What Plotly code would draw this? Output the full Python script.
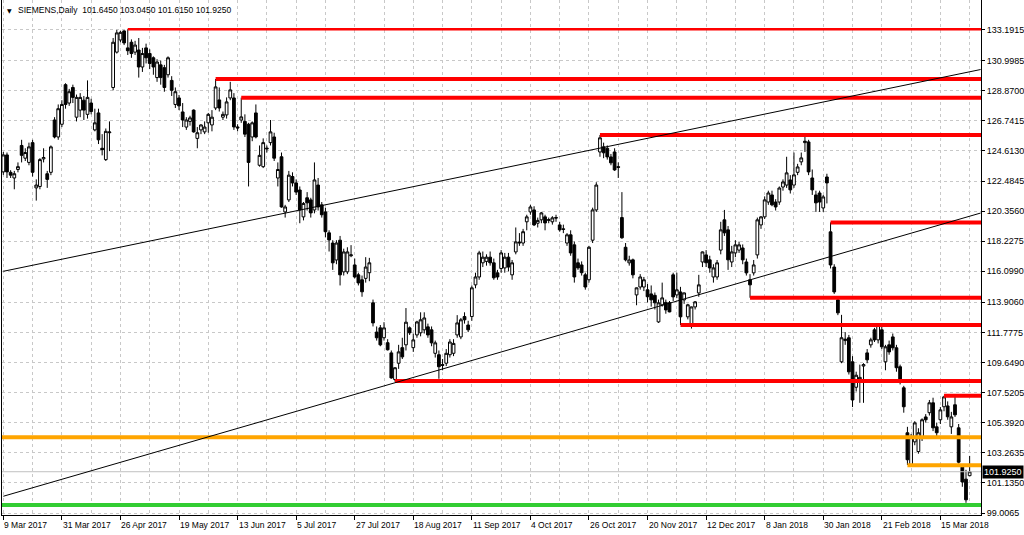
import pandas as pd
import plotly.graph_objects as go

# ---------------- data ----------------
holidays = ["2017-04-14", "2017-04-17", "2017-05-01", "2017-06-05", "2017-10-03",
            "2017-10-31", "2017-12-25", "2017-12-26", "2018-01-01"]
dates = pd.bdate_range("2017-03-09", "2018-03-27", freq="C", holidays=holidays)

ohlc_rows = [
    (123.13, 124.54, 122.92, 124.33), (124.33, 124.50, 122.70, 123.13), (123.10, 123.25, 122.70, 122.90),
    (122.70, 123.20, 121.90, 123.00), (123.30, 123.80, 123.10, 123.50), (125.00, 125.40, 123.80, 124.30),
    (124.10, 124.80, 123.90, 124.50), (123.80, 125.20, 123.60, 124.90), (125.20, 125.40, 122.80, 123.10),
    (122.00, 122.60, 121.10, 122.20), (122.10, 124.10, 121.90, 124.00), (124.05, 124.80, 123.80, 124.15),
    (123.00, 123.20, 122.00, 122.60), (123.10, 125.00, 122.90, 124.90), (126.80, 127.00, 125.50, 125.60),
    (125.60, 127.90, 125.40, 127.60), (126.50, 128.20, 126.30, 127.90), (129.30, 129.40, 127.60, 127.90),
    (128.00, 129.00, 127.80, 128.80), (129.10, 129.30, 128.00, 128.40), (127.00, 128.60, 126.70, 128.40),
    (127.50, 128.70, 127.00, 128.40), (128.20, 128.50, 126.80, 127.50), (127.20, 129.60, 126.90, 128.40),
    (128.00, 128.30, 127.20, 127.40), (126.10, 127.60, 126.00, 126.60), (127.30, 127.60, 125.10, 125.40),
    (124.80, 125.80, 124.30, 124.70), (124.00, 126.20, 123.90, 126.00), (125.90, 126.70, 124.60, 125.95),
    (129.10, 132.60, 128.90, 132.30), (131.60, 133.17, 131.50, 132.96), (132.46, 133.10, 132.30, 133.00),
    (133.10, 133.15, 132.10, 132.25), (131.90, 133.22, 131.40, 131.70), (132.30, 132.50, 131.20, 131.50),
    (131.60, 132.40, 131.40, 132.10), (131.75, 132.60, 129.80, 130.55), (130.55, 131.90, 130.20, 131.50),
    (131.90, 132.20, 130.80, 131.20), (131.50, 131.80, 130.40, 130.80), (131.20, 131.30, 130.00, 130.55),
    (129.80, 131.10, 129.50, 130.90), (130.70, 131.00, 129.30, 129.80), (130.50, 130.70, 128.80, 129.10),
    (130.00, 131.30, 129.80, 131.20), (129.60, 129.90, 128.50, 128.90), (127.90, 129.10, 127.65, 128.80),
    (128.36, 128.57, 127.50, 127.80), (127.37, 128.00, 126.30, 126.80), (126.30, 127.00, 126.10, 126.80),
    (126.70, 127.10, 126.40, 126.95), (127.50, 127.55, 125.90, 125.96), (125.50, 126.30, 124.80, 125.90),
    (126.10, 126.50, 125.80, 126.45), (125.96, 126.70, 125.80, 126.30), (126.60, 127.30, 125.90, 127.20),
    (126.45, 127.50, 126.00, 127.00), (127.65, 129.70, 127.50, 129.14), (128.22, 129.10, 127.40, 127.65),
    (127.00, 127.40, 126.80, 127.20), (127.16, 128.40, 126.90, 128.08), (128.36, 129.50, 128.20, 128.93),
    (128.36, 128.70, 126.10, 126.31), (126.31, 126.50, 126.00, 126.24), (126.80, 128.38, 126.60, 127.02),
    (126.70, 127.20, 125.60, 125.80), (126.50, 126.60, 122.10, 123.80), (125.60, 126.70, 125.30, 126.60),
    (127.30, 127.90, 125.50, 125.60), (123.60, 125.00, 123.50, 124.30), (123.50, 125.50, 123.40, 125.20),
    (124.75, 125.00, 124.50, 124.80), (125.20, 126.80, 125.00, 125.96), (125.60, 125.90, 123.90, 124.10),
    (122.70, 123.80, 122.10, 123.30), (124.20, 124.50, 120.60, 120.65), (120.30, 120.80, 119.90, 120.65),
    (121.15, 123.20, 121.00, 122.90), (122.80, 123.10, 122.10, 122.35), (122.35, 122.60, 121.50, 121.70),
    (121.85, 122.10, 119.50, 120.44), (119.95, 121.00, 119.70, 120.90), (121.30, 121.70, 120.40, 120.94),
    (121.15, 121.30, 119.90, 120.23), (120.44, 123.80, 120.20, 122.56), (122.20, 122.70, 120.40, 120.65),
    (120.80, 121.00, 119.90, 120.10), (120.30, 120.60, 118.50, 118.90), (118.82, 119.00, 117.50, 118.32),
    (118.10, 118.30, 116.20, 116.70), (116.90, 118.30, 116.60, 118.10), (118.30, 118.60, 115.10, 115.85),
    (116.06, 117.70, 115.80, 117.47), (116.06, 117.80, 115.90, 117.47), (117.20, 117.95, 117.10, 117.26),
    (116.55, 117.00, 115.60, 115.70), (115.85, 116.00, 115.10, 115.28), (115.50, 115.80, 114.30, 114.65),
    (115.60, 117.10, 115.30, 116.40), (116.00, 117.05, 115.40, 116.70), (113.87, 114.10, 112.20, 112.45),
    (111.80, 112.20, 111.20, 111.40), (112.10, 112.30, 110.80, 110.90), (111.40, 112.50, 111.20, 112.10),
    (111.05, 111.30, 110.50, 110.55), (110.33, 110.50, 108.50, 108.56), (108.45, 109.30, 108.30, 109.28),
    (109.60, 110.90, 109.20, 110.40), (110.70, 111.40, 109.90, 110.05), (110.90, 113.50, 110.50, 112.50),
    (112.10, 112.20, 111.60, 111.75), (110.70, 111.70, 110.40, 111.25), (111.60, 112.60, 111.40, 112.52),
    (111.75, 113.20, 111.50, 112.67), (111.96, 113.20, 111.70, 112.80), (112.17, 112.40, 111.40, 111.60),
    (111.96, 112.20, 110.80, 111.04), (110.30, 111.20, 110.00, 111.04), (110.20, 110.50, 108.50, 109.35),
    (109.50, 109.90, 109.10, 109.45), (109.60, 110.60, 109.40, 110.30), (110.20, 111.30, 110.00, 111.10),
    (110.30, 111.30, 110.10, 111.00), (111.60, 113.00, 111.40, 112.45), (111.46, 112.80, 111.30, 112.67),
    (112.90, 113.20, 112.40, 112.67), (112.30, 112.60, 111.80, 111.96), (112.90, 115.10, 112.60, 114.93),
    (115.14, 116.00, 114.90, 115.70), (115.70, 117.55, 115.50, 117.40), (116.70, 117.50, 116.40, 117.10),
    (116.80, 117.30, 116.50, 117.10), (117.10, 117.50, 116.50, 116.70), (116.70, 117.00, 115.50, 115.64),
    (115.99, 116.20, 115.50, 115.70), (116.30, 117.60, 116.00, 117.40), (116.34, 117.40, 116.00, 117.10),
    (117.10, 117.40, 116.10, 116.40), (115.85, 116.90, 115.50, 116.70), (117.47, 119.20, 117.30, 118.18),
    (118.10, 118.80, 117.90, 118.15), (118.10, 119.10, 117.90, 118.90), (119.60, 120.10, 119.00, 119.95),
    (120.30, 120.80, 120.10, 120.65), (120.44, 120.70, 119.30, 119.38), (119.50, 119.90, 119.20, 119.70),
    (119.74, 120.30, 119.50, 120.23), (119.95, 120.10, 119.00, 119.52), (119.70, 119.90, 119.50, 119.75),
    (119.60, 120.00, 119.40, 119.88), (119.90, 120.10, 119.60, 119.87), (119.38, 119.60, 118.90, 119.03),
    (119.10, 119.40, 118.80, 119.07), (118.10, 118.80, 117.90, 118.68), (118.68, 119.00, 117.20, 117.40),
    (117.97, 118.20, 115.30, 115.70), (116.70, 117.00, 116.20, 116.34), (116.55, 116.80, 115.80, 116.00),
    (115.85, 116.00, 114.80, 114.99), (115.50, 117.90, 115.30, 117.80), (118.30, 120.60, 118.10, 120.44),
    (120.44, 122.40, 120.30, 122.20), (124.54, 125.74, 124.20, 125.54), (124.90, 125.20, 124.10, 124.48),
    (124.80, 125.00, 124.00, 124.19), (124.19, 124.40, 123.60, 123.77), (124.54, 124.80, 123.20, 123.27),
    (123.50, 123.80, 122.70, 123.45), (119.90, 121.70, 118.40, 118.47), (117.80, 118.10, 116.80, 116.91),
    (116.70, 117.20, 116.50, 116.90), (116.91, 117.00, 115.60, 115.85), (114.43, 114.95, 113.70, 114.93),
    (114.99, 115.90, 114.80, 115.70), (114.99, 115.70, 114.70, 115.50), (114.79, 115.20, 113.90, 114.30),
    (114.50, 115.10, 113.60, 114.08), (114.40, 114.60, 113.40, 113.87), (112.52, 114.10, 112.45, 113.87),
    (113.73, 115.30, 113.60, 114.22), (113.90, 114.10, 113.10, 113.37), (113.87, 114.00, 113.20, 113.23),
    (115.85, 116.00, 114.00, 114.29), (114.43, 116.00, 114.20, 114.79), (114.64, 115.00, 112.30, 112.88),
    (114.08, 114.60, 113.80, 114.57), (112.88, 113.80, 112.70, 113.73), (112.20, 113.60, 112.05, 113.58),
    (113.58, 114.00, 113.40, 113.94), (114.57, 115.85, 114.30, 115.14), (116.76, 117.50, 116.40, 117.47),
    (117.26, 117.60, 116.40, 116.70), (116.91, 117.20, 116.00, 116.34), (115.70, 116.60, 115.30, 116.34),
    (115.70, 116.90, 115.50, 116.70), (117.60, 119.60, 117.30, 119.03), (119.74, 120.44, 118.60, 118.82),
    (119.03, 119.30, 116.20, 116.91), (116.76, 117.90, 116.40, 117.47), (117.40, 118.30, 117.10, 117.97),
    (117.60, 118.20, 117.40, 117.97), (117.75, 118.00, 116.60, 116.91), (116.76, 117.00, 115.80, 115.99),
    (115.50, 115.90, 114.23, 115.14), (115.99, 116.90, 115.80, 116.55), (117.26, 119.90, 117.00, 119.74),
    (119.38, 120.00, 119.10, 119.95), (119.95, 121.40, 119.80, 121.15), (121.00, 121.80, 120.80, 121.64),
    (121.50, 121.80, 120.70, 120.80), (121.00, 121.20, 120.40, 120.65), (121.00, 122.10, 120.80, 121.99),
    (122.06, 122.60, 121.80, 122.42), (122.20, 124.20, 122.00, 123.06), (122.56, 122.90, 121.60, 121.86),
    (122.20, 124.50, 122.00, 122.92), (123.10, 123.70, 122.90, 123.48), (123.84, 124.50, 123.60, 124.12),
    (125.20, 125.60, 124.54, 125.30), (125.25, 125.40, 122.90, 123.13), (122.70, 123.30, 121.50, 121.86),
    (121.50, 121.80, 120.30, 120.94), (121.64, 121.80, 120.30, 121.00), (120.58, 121.50, 120.30, 121.36),
    (122.77, 123.00, 120.90, 122.35), (118.89, 119.56, 116.30, 116.55), (116.40, 116.60, 114.50, 114.64),
    (114.08, 114.30, 113.00, 113.16), (109.70, 113.02, 109.60, 111.40), (111.20, 111.80, 110.90, 111.30),
    (111.40, 111.60, 108.80, 108.99), (109.70, 110.10, 106.50, 107.00), (107.90, 109.00, 107.60, 108.75),
    (108.30, 109.50, 106.80, 108.60), (109.40, 109.60, 106.80, 109.50), (110.33, 110.60, 109.60, 109.84),
    (110.90, 111.40, 110.70, 111.25), (111.96, 112.10, 111.10, 111.25), (111.25, 112.40, 111.00, 112.30),
    (111.96, 112.20, 110.60, 110.76), (109.70, 110.90, 109.10, 110.76), (110.90, 111.20, 110.20, 110.40),
    (111.46, 111.70, 110.50, 110.69), (110.69, 110.90, 109.00, 109.28), (109.35, 109.50, 108.10, 108.28),
    (107.86, 108.00, 106.10, 106.52), (104.68, 105.10, 102.40, 102.77), (102.42, 104.60, 102.38, 104.40),
    (104.04, 105.50, 103.80, 105.38), (103.35, 105.00, 103.20, 104.68), (104.32, 105.70, 104.10, 105.60),
    (105.80, 106.00, 105.40, 105.60), (106.10, 107.00, 105.90, 106.80), (106.80, 107.16, 104.80, 105.03),
    (105.10, 105.40, 104.30, 104.68), (105.60, 106.50, 105.30, 106.30), (106.52, 107.30, 106.20, 107.22),
    (106.58, 106.90, 105.60, 105.81), (105.10, 106.16, 104.60, 105.80), (106.66, 107.22, 105.80, 105.95),
    (105.03, 105.30, 102.50, 102.60), (102.25, 102.30, 100.86, 101.20), (101.40, 102.06, 99.73, 99.94),
    (101.645, 103.045, 101.615, 101.925),
]
opens = [r[0] for r in ohlc_rows]
highs = [r[1] for r in ohlc_rows]
lows = [r[2] for r in ohlc_rows]
closes = [r[3] for r in ohlc_rows]

date_tick_labels = ["9 Mar 2017", "31 Mar 2017", "26 Apr 2017", "19 May 2017", "13 Jun 2017",
                    "5 Jul 2017", "27 Jul 2017", "18 Aug 2017", "11 Sep 2017", "4 Oct 2017",
                    "26 Oct 2017", "20 Nov 2017", "12 Dec 2017", "8 Jan 2018", "30 Jan 2018",
                    "21 Feb 2018", "15 Mar 2018"]
price_ticks = [99.0065, 101.1350, 103.2635, 105.3920, 107.5205, 109.6490, 111.7775, 113.9060,
               116.0990, 118.2275, 120.3560, 122.4845, 124.6130, 126.7415, 128.8700, 130.9985, 133.1915]

# horizontal levels (price, start bar date)
red_levels = [133.22, 129.70, 128.38, 125.74, 119.56, 114.23, 112.30, 108.34, 107.30]
red_start_dates = ["2017-04-28", "2017-06-02", "2017-06-14", "2017-11-01", "2018-02-01",
                   "2018-01-02", "2017-12-01", "2017-08-11", "2018-03-16"]
orange_levels = [104.36, 102.38]
orange_start_dates = ["2017-03-09", "2018-03-02"]
green_levels = [99.57]
last_price = 101.925

# trend lines: (start bar, start price, end bar, end price)
upper_trend = [0, 116.10, 267, 130.37]
lower_trend = [0, 100.19, 267, 120.22]

# ---------------- figure ----------------
n = len(closes)
dates = dates[:n]
xs = list(range(n))
X_MIN, X_MAX = -0.36, 267.1
Y_MIN, Y_MAX = 98.865, 135.287

def bar_of(d):
    return int(dates.get_loc(pd.Timestamp(d)))

fig = go.Figure()

# current price line
fig.add_trace(go.Scatter(x=[X_MIN, X_MAX], y=[last_price, last_price], mode="lines",
                         line=dict(color="#C0C0C0", width=1), hoverinfo="skip", showlegend=False))

for lv in green_levels:
    fig.add_trace(go.Scatter(x=[X_MIN, X_MAX], y=[lv, lv], mode="lines",
                             line=dict(color="#32CD32", width=4), hoverinfo="skip", showlegend=False))
for lv, d in zip(orange_levels, orange_start_dates):
    s = bar_of(d)
    x0 = X_MIN if s == 0 else s
    fig.add_trace(go.Scatter(x=[x0, X_MAX], y=[lv, lv], mode="lines",
                             line=dict(color="#FFA500", width=4), hoverinfo="skip", showlegend=False))
for i, (lv, d) in enumerate(zip(red_levels, red_start_dates)):
    fig.add_trace(go.Scatter(x=[bar_of(d), X_MAX], y=[lv, lv], mode="lines",
                             line=dict(color="#FF0000", width=2.5 if i == 0 else 4),
                             hoverinfo="skip", showlegend=False))
for tl in (upper_trend, lower_trend):
    fig.add_trace(go.Scatter(x=[tl[0], tl[2]], y=[tl[1], tl[3]], mode="lines",
                             line=dict(color="#000000", width=1), hoverinfo="skip", showlegend=False))

fig.add_trace(go.Candlestick(
    x=xs, open=opens, high=highs, low=lows, close=closes,
    text=[d.strftime("%d %b %Y") for d in dates], hoverinfo="text+x",
    increasing=dict(line=dict(color="#000000", width=1), fillcolor="#FFFFFF"),
    decreasing=dict(line=dict(color="#000000", width=1), fillcolor="#000000"),
    whiskerwidth=0, showlegend=False))

tick_pos = [bar_of(pd.to_datetime(t, format="%d %b %Y")) for t in date_tick_labels]

font_family = "Liberation Sans, Arial, sans-serif"
annotations = []
for p, t in zip(tick_pos, date_tick_labels):
    annotations.append(dict(x=p, y=0, xref="x", yref="paper", text=t, showarrow=False,
                            xanchor="left", yanchor="top", yshift=-3, xshift=-1,
                            font=dict(family=font_family, size=8.5, color="#000000")))
annotations.append(dict(x=0.0, y=1, xref="paper", yref="paper", xshift=3, yshift=-5,
                        text="▼", showarrow=False, xanchor="left", yanchor="top",
                        font=dict(family="DejaVu Sans", size=6, color="#000000")))
annotations.append(dict(x=0.0, y=1, xref="paper", yref="paper", xshift=14, yshift=-3,
                        text="SIEMENS,Daily  %.4f %.4f %.4f %.4f" % (opens[-1], highs[-1], lows[-1], closes[-1]),
                        showarrow=False, xanchor="left", yanchor="top",
                        font=dict(family=font_family, size=8.5, color="#000000")))
annotations.append(dict(x=1, y=last_price, xref="paper", yref="y", text="%.4f" % last_price,
                        showarrow=False, xanchor="left", yanchor="middle", xshift=1,
                        bgcolor="#000000", borderpad=1,
                        font=dict(family=font_family, size=9, color="#FFFFFF")))

fig.update_layout(
    width=1024, height=535, autosize=False,
    margin=dict(l=2, r=43, t=0, b=20),
    paper_bgcolor="#FFFFFF", plot_bgcolor="#FFFFFF",
    showlegend=False, boxgap=0.25, boxgroupgap=0.0,
    annotations=annotations,
    xaxis=dict(range=[X_MIN, X_MAX], tickmode="array", tickvals=tick_pos, showticklabels=False,
               ticks="outside", ticklen=4, tickcolor="#000000",
               showgrid=True, gridcolor="#C8C8C8", griddash="3px,3px", gridwidth=1,
               minor=dict(tickmode="linear", tick0=8, dtick=16, showgrid=True,
                          gridcolor="#C8C8C8", griddash="3px,3px", ticks=""),
               showline=True, linecolor="#000000", linewidth=1, zeroline=False,
               rangeslider=dict(visible=False), fixedrange=True),
    yaxis=dict(range=[Y_MIN, Y_MAX], side="right", tickmode="array", tickvals=price_ticks,
               ticktext=["%.4f" % v for v in price_ticks], ticks="outside", ticklen=3,
               tickcolor="#000000", tickfont=dict(family=font_family, size=9, color="#000000"),
               showgrid=True, gridcolor="#C8C8C8", griddash="3px,3px", gridwidth=1,
               showline=True, mirror=True, linecolor="#000000", linewidth=1, zeroline=False,
               automargin=False, fixedrange=True),
)

fig.write_html("out.html", config={"displayModeBar": False},
               post_script="document.body.style.margin='0px';document.body.style.overflow='hidden';")
